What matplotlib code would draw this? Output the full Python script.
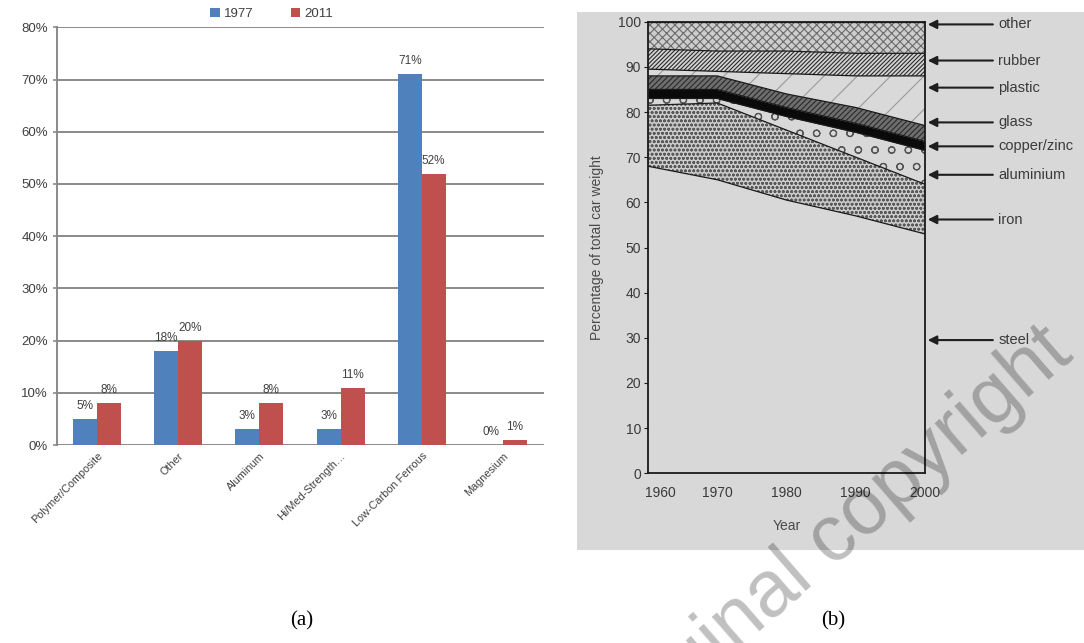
import numpy as np
import matplotlib
matplotlib.use("Agg")
import matplotlib.pyplot as plt
from matplotlib.patches import Rectangle
from matplotlib.transforms import ScaledTranslation

# ---------------- data: panel (a) ----------------
categories = ["Polymer/Composite", "Other", "Aluminum", "Hi/Med-Strength\u2026",
              "Low-Carbon Ferrous", "Magnesium"]
vals_1977 = [5, 18, 3, 3, 71, 0]
vals_2011 = [8, 20, 8, 11, 52, 1]
series_names = ["1977", "2011"]
y_ticks_a = [0, 10, 20, 30, 40, 50, 60, 70, 80]

# ---------------- data: panel (b) ----------------
years = [1960, 1970, 1980, 1990, 2000]
steel = [68, 65, 60.5, 57, 53]
iron = [13.5, 17, 15.5, 13, 11]
aluminium = [1.5, 1, 3, 5.5, 7.5]
copper_zinc = [2, 2, 2, 2, 2]
glass = [3, 3, 3, 3.5, 3.5]
plastic = [1.5, 1, 4.5, 7, 11]
rubber = [4.5, 4.5, 5, 5, 5]
other = [6, 6.5, 6.5, 7, 7]
materials = ["steel", "iron", "aluminium", "copper/zinc", "glass", "plastic", "rubber", "other"]
label_y = [29.5, 56.2, 66.1, 72.4, 77.7, 85.4, 91.4, 99.4]

plt.rcParams['hatch.linewidth'] = 0.8

fig = plt.figure(figsize=(10.84, 6.43), dpi=100)
fig.patch.set_facecolor("white")

W, H = 1084, 643

# ================= panel (a) =================
ax1 = fig.add_axes([56.5 / W, 1 - 445 / H, (543.5 - 56.5) / W, (445 - 27.4) / H])
x = np.arange(len(categories))
bw = 0.295
c1, c2 = "#4F81BD", "#C0504D"
b1 = ax1.bar(x - bw / 2, vals_1977, bw, color=c1, label=series_names[0], zorder=3)
b2 = ax1.bar(x + bw / 2, vals_2011, bw, color=c2, label=series_names[1], zorder=3)
ax1.set_xlim(-0.5, len(categories) - 0.5)
ax1.set_ylim(0, 80)
ax1.set_yticks(y_ticks_a)
ax1.set_yticklabels([f"{v}%" for v in y_ticks_a], fontsize=9.5, color="#404040",
                    family="Liberation Sans")
ax1.yaxis.grid(True, color="#8a8a8a", lw=1.4, zorder=0)
ax1.set_axisbelow(True)
for s in ["top", "right", "bottom"]:
    ax1.spines[s].set_visible(False)
ax1.spines["left"].set_color("#8a8a8a")
ax1.spines["left"].set_linewidth(1.4)
ax1.tick_params(axis="y", length=3, color="#8a8a8a", width=1.2, pad=3)
ax1.tick_params(axis="x", length=0, pad=4)
ax1.set_xticks(x)
ax1.set_xticklabels(categories, rotation=45, ha="right", rotation_mode="anchor",
                    fontsize=7.8, color="#404040", family="Liberation Sans")
for bars, vals in ((b1, vals_1977), (b2, vals_2011)):
    for r, v in zip(bars, vals):
        ax1.annotate(f"{v}%", (r.get_x() + r.get_width() / 2, r.get_height()),
                     xytext=(0, 5), textcoords="offset points", ha="center",
                     va="bottom", fontsize=8.5, color="#404040",
                     family="Liberation Sans")
ax1.legend(loc="center", bbox_to_anchor=(272 / W, 1 - 14 / H),
           bbox_transform=fig.transFigure, ncol=2, frameon=False,
           handlelength=0.7, handleheight=0.7, columnspacing=2.8,
           handletextpad=0.35, prop={"family": "Liberation Sans", "size": 9.5},
           labelcolor="#404040")

fig.text(302 / W, 1 - 621 / H, "(a)", ha="center", va="center", fontsize=15,
         family="Liberation Serif")

# ================= panel (b) =================
fig.add_artist(Rectangle((577 / W, 1 - 550 / H), (W - 577) / W, (550 - 12) / H,
                         transform=fig.transFigure, facecolor="#d8d8d8",
                         edgecolor="none", zorder=0))

ax2 = fig.add_axes([648 / W, 1 - 473.3 / H, 277 / W, 451.6 / H])
ax2.set_facecolor("none")
layers = [steel, iron, aluminium, copper_zinc, glass, plastic, rubber, other]
styles = [
    dict(facecolor="#d8d8d8", hatch=None, edgecolor="#d8d8d8"),
    dict(facecolor="#cbcbcb", hatch="oooo", edgecolor="#5a5a5a"),
    dict(facecolor="#d8d8d8", hatch="o", edgecolor="#555555"),
    dict(facecolor="#0a0a0a", hatch=None, edgecolor="#0a0a0a"),
    dict(facecolor="#6e6e6e", hatch="//////", edgecolor="#2a2a2a"),
    dict(facecolor="#d9d9d9", hatch="/", edgecolor="#9a9a9a"),
    dict(facecolor="#d4d4d4", hatch="////////", edgecolor="#2a2a2a"),
    dict(facecolor="#cdcdcd", hatch="xxxx", edgecolor="#6a6a6a"),
]
bottom = np.zeros(len(years))
for vals, st in zip(layers, styles):
    top = bottom + np.array(vals, dtype=float)
    ax2.fill_between(years, bottom, top, linewidth=0, **st)
    ax2.plot(years, top, color="#1a1a1a", lw=0.9)
    bottom = top

ax2.set_xlim(1960, 2000)
ax2.set_ylim(0, 100)
for s in ax2.spines.values():
    s.set_color("#1a1a1a")
    s.set_linewidth(1.3)
ax2.set_yticks(np.arange(0, 101, 10))
ax2.set_xticks(years)
ax2.tick_params(axis="y", length=3, direction="out", color="#1a1a1a", pad=2,
                labelsize=10, labelcolor="#3a3a3a")
ax2.tick_params(axis="x", length=0, pad=9, labelsize=10, labelcolor="#3a3a3a")
for lab in ax2.get_xticklabels() + ax2.get_yticklabels():
    lab.set_family(["Liberation Sans Narrow", "Liberation Sans"])
first = ax2.get_xticklabels()[0]
first.set_transform(first.get_transform() + ScaledTranslation(12 / 100, 0, fig.dpi_scale_trans))
ax2.set_ylabel("Percentage of total car weight", fontsize=10, color="#4a4a4a",
               labelpad=10, family=["Liberation Sans Narrow", "Liberation Sans"])
ax2.set_xlabel("Year", fontsize=10, color="#4a4a4a", labelpad=14,
               family=["Liberation Sans Narrow", "Liberation Sans"])

for name, yv in zip(materials, label_y):
    ax2.annotate("", xy=(2000.4, yv), xytext=(2009.8, yv),
                 arrowprops=dict(arrowstyle="-|>", color="#1e1e1e", lw=1.5,
                                 mutation_scale=13, shrinkA=0, shrinkB=0),
                 annotation_clip=False)
    ax2.text(2010.6, yv, name, va="center", ha="left", fontsize=10.5,
             color="#3a3a3a", clip_on=False,
             family=["Liberation Sans Narrow", "Liberation Sans"])

fig.text(833 / W, 1 - 621 / H, "(b)", ha="center", va="center", fontsize=15,
         family="Liberation Serif")

# watermark
fig.text(1062 / W, 1 - 342 / H, "original copyright", rotation=41,
         rotation_mode="anchor", ha="right", va="center", fontsize=57,
         color="black", alpha=0.25, family="Liberation Sans", zorder=10)

fig.savefig("out.png", dpi=100)
